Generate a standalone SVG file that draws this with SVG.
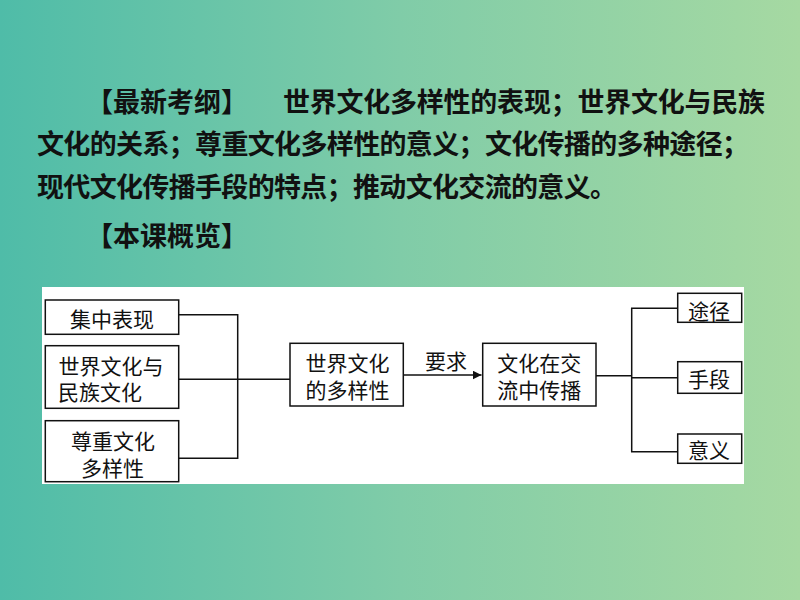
<svg xmlns="http://www.w3.org/2000/svg" width="800" height="600" viewBox="0 0 800 600">
<defs>
<linearGradient id="bg" x1="0" y1="0" x2="1" y2="0">
<stop offset="0" stop-color="#4fbca8"/>
<stop offset="0.5" stop-color="#80cca8"/>
<stop offset="1" stop-color="#a6d9a2"/>
</linearGradient>
<marker id="arr" viewBox="0 0 10 10" refX="10" refY="5" markerWidth="9" markerHeight="9" markerUnits="userSpaceOnUse" orient="auto">
<path d="M0,0 L10,5 L0,10 Z" fill="#111"/>
</marker>
<style>
.hd{font-family:"Noto Sans CJK SC","Noto Sans",sans-serif;font-size:27px;font-weight:bold;fill:#111}
.t{font-family:"Noto Sans CJK SC","Noto Sans",sans-serif;font-size:21px;fill:#111;text-anchor:middle;dominant-baseline:central}
.box{fill:#fff;stroke:#111;stroke-width:1.5}
.ln{fill:none;stroke:#111;stroke-width:1.5}
</style>
</defs>
<rect x="0" y="0" width="800" height="600" fill="url(#bg)"/>
<g id="header">
<text class="hd" x="86" y="112">【最新考纲】</text>
<text class="hd" x="283" y="112" textLength="482" lengthAdjust="spacing">世界文化多样性的表现；世界文化与民族</text>
<text class="hd" x="37" y="154" textLength="712" lengthAdjust="spacing">文化的关系；尊重文化多样性的意义；文化传播的多种途径；</text>
<text class="hd" x="37" y="197" textLength="580" lengthAdjust="spacing">现代文化传播手段的特点；推动文化交流的意义。</text>
<text class="hd" x="86" y="246">【本课概览】</text>
</g>
<rect x="42" y="287" width="702" height="197" fill="#fff"/>
<g id="connectors">
<path class="ln" d="M179,314.7 H237.7 V458.3 H179 M179,379.3 H290"/>
<path class="ln" d="M403.3,375 H481.5" marker-end="url(#arr)"/>
<path class="ln" d="M596,375.7 H631.7 M677.7,308.3 H631.7 V451.7 H677.7 M631.7,377.7 H677.7"/>
<text id="label-yaoqiu" class="t" x="446" y="360">要求</text>
</g>
<g id="n1"><rect class="box" x="45.3" y="300" width="133.4" height="34.3"/><text class="t" x="112" y="317.5">集中表现</text></g>
<g id="n2"><rect class="box" x="45.3" y="345.7" width="133.4" height="62.6"/><text class="t" x="111" y="364.5">世界文化与</text><text class="t" x="100" y="390.5">民族文化</text></g>
<g id="n3"><rect class="box" x="45.3" y="420.7" width="133.4" height="61"/><text class="t" x="113" y="440">尊重文化</text><text class="t" x="112.5" y="467">多样性</text></g>
<g id="n4"><rect class="box" x="290" y="343.3" width="113.3" height="62.7"/><text class="t" x="347.5" y="362">世界文化</text><text class="t" x="347.5" y="388.5">的多样性</text></g>
<g id="n5"><rect class="box" x="482.7" y="343.3" width="113.3" height="62.7"/><text class="t" x="539.3" y="362">文化在交</text><text class="t" x="539.3" y="388.5">流中传播</text></g>
<g id="n6"><rect class="box" x="677.7" y="293.3" width="64" height="29"/><text class="t" x="709" y="310">途径</text></g>
<g id="n7"><rect class="box" x="677.7" y="361.7" width="64" height="31.6"/><text class="t" x="709" y="378">手段</text></g>
<g id="n8"><rect class="box" x="677.7" y="434" width="64" height="29.3"/><text class="t" x="709" y="449">意义</text></g>
</svg>
